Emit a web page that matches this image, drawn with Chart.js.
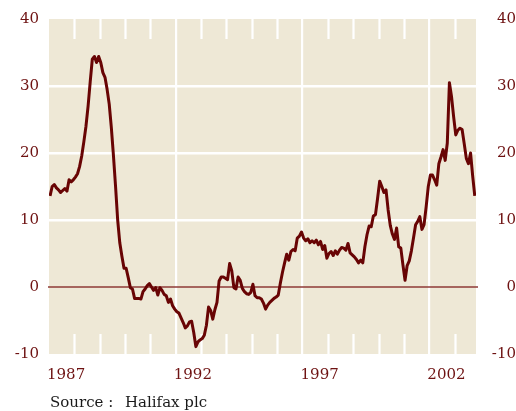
<!DOCTYPE html>
<html>
<head>
<meta charset="utf-8">
<script src="https://cdn.jsdelivr.net/npm/chart.js@4/dist/chart.umd.min.js"></script>
<style>
  html, body { margin: 0; padding: 0; background: #ffffff; }
  #wrap { width: 516px; height: 411px; position: relative; }
</style>
</head>
<body>
<div id="wrap"><canvas id="c" width="516" height="411"></canvas></div>
<script>
// ---- Data (monthly, % change year on year, Jan 1987 onwards) ----
const startYear = 1987;
const values = [
  // 1987
  13.6, 15.0, 15.3, 14.8, 14.5, 14.1, 14.4, 14.7, 14.3, 16.0, 15.7, 16.0,
  // 1988
  16.4, 16.9, 18.0, 19.6, 21.7, 24.0, 27.0, 30.6, 34.0, 34.4, 33.5, 34.4,
  // 1989
  33.5, 32.0, 31.3, 29.5, 27.3, 23.8, 19.6, 15.0, 10.0, 6.6, 4.6, 2.8,
  // 1990
  2.8, 1.4, -0.1, -0.3, -1.7, -1.7, -1.7, -1.8, -0.7, -0.3, 0.2, 0.5,
  // 1991
  0.0, -0.5, -0.1, -1.2, -0.1, -0.5, -1.1, -1.3, -2.3, -1.8, -2.8, -3.3,
  // 1992
  -3.7, -3.9, -4.6, -5.3, -6.1, -5.8, -5.2, -5.1, -6.8, -8.9, -8.2, -7.9,
  // 1993
  -7.7, -7.2, -5.7, -3.0, -3.5, -4.8, -3.4, -2.3, 0.9, 1.5, 1.5, 1.3,
  // 1994
  1.1, 3.5, 2.4, -0.1, -0.3, 1.5, 1.0, -0.2, -0.7, -1.0, -1.1, -0.8,
  // 1995
  0.4, -1.3, -1.6, -1.6, -1.8, -2.4, -3.3, -2.7, -2.3, -2.0, -1.7, -1.5,
  // 1996
  -1.2, 0.6, 2.2, 3.6, 4.9, 4.0, 5.3, 5.6, 5.4, 7.3, 7.6, 8.2,
  // 1997
  7.3, 6.9, 7.2, 6.6, 6.9, 6.6, 7.0, 6.3, 6.8, 5.6, 6.2, 4.3,
  // 1998
  5.0, 5.3, 4.7, 5.4, 4.9, 5.5, 5.9, 5.8, 5.5, 6.5, 5.1, 4.8,
  // 1999
  4.5, 4.1, 3.6, 4.0, 3.6, 6.0, 7.8, 9.1, 9.0, 10.6, 10.8, 13.2,
  // 2000
  15.8, 15.0, 14.1, 14.5, 11.5, 9.2, 7.9, 7.1, 8.8, 6.0, 5.8, 3.3,
  // 2001
  1.0, 3.2, 3.9, 5.4, 7.3, 9.3, 9.8, 10.5, 8.6, 9.3, 12.0, 15.0,
  // 2002
  16.7, 16.7, 16.0, 15.2, 18.4, 19.4, 20.5, 18.9, 21.5, 30.5, 28.4, 25.4,
  // 2003
  22.7, 23.4, 23.7, 23.5, 21.4, 19.2, 18.4, 20.0, 16.6, 13.6
];
const yTickValues = [-10, 0, 10, 20, 30, 40];
const labelYears = [1987, 1992, 1997, 2002];
const fullGridYears = [1992, 1997, 2002];
const sourceLabel = "Source :";
const sourceName = "Halifax plc";

const xMin = 1987, xMax = 2003.84;
const points = values.map((v, i) => ({ x: startYear + (i + 0.5) / 12, y: v }));
const yearTicks = [];
for (let y = Math.ceil(xMin); y <= Math.floor(xMax); y++) yearTicks.push(y);

const BG = '#eee8d6';
const LINE = '#680404';
const TXT = '#6e1212';
const FONT = "'DejaVu Serif', 'Liberation Serif', serif";

const decor = {
  id: 'decor',
  beforeDraw(chart) {
    const { ctx, chartArea: a } = chart;
    ctx.save();
    ctx.fillStyle = BG;
    ctx.fillRect(a.left, a.top, a.right - a.left, a.bottom - a.top);
    ctx.restore();
  },
  beforeDatasetsDraw(chart) {
    const { ctx, chartArea: a, scales } = chart;
    ctx.save();
    ctx.strokeStyle = '#ffffff';
    ctx.lineWidth = 2.2;
    yearTicks.forEach(yr => {
      if (fullGridYears.includes(yr) || yr === xMin) return;
      const px = Math.round(scales.x.getPixelForValue(yr)) + 0.5;
      ctx.beginPath();
      ctx.moveTo(px, a.top); ctx.lineTo(px, a.top + 20);
      ctx.moveTo(px, a.bottom - 20); ctx.lineTo(px, a.bottom);
      ctx.stroke();
    });
    // zero line on top of grid
    const zy = scales.y.getPixelForValue(0);
    ctx.strokeStyle = '#8e3a36';
    ctx.lineWidth = 1.4;
    ctx.beginPath();
    ctx.moveTo(a.left - 1, zy); ctx.lineTo(a.right + 2, zy);
    ctx.stroke();
    ctx.restore();
  },
  afterDraw(chart) {
    const { ctx } = chart;
    ctx.save();
    ctx.fillStyle = '#1a1a1a';
    ctx.font = "15px " + FONT;
    ctx.textBaseline = 'middle';
    ctx.textAlign = 'left';
    ctx.fillText(sourceLabel, 50, 403);
    ctx.fillText(sourceName, 125, 403);
    ctx.restore();
  }
};

new Chart(document.getElementById('c'), {
  type: 'line',
  data: {
    datasets: [{
      data: points,
      borderColor: LINE,
      borderWidth: 3,
      pointRadius: 0,
      tension: 0,
      borderJoinStyle: 'round',
      fill: false
    }]
  },
  options: {
    responsive: false,
    animation: false,
    devicePixelRatio: 1,
    layout: { padding: { top: 17, left: 0, right: 0, bottom: 0 } },
    plugins: { legend: { display: false }, tooltip: { enabled: false } },
    scales: {
      x: {
        type: 'linear',
        min: xMin, max: xMax,
        afterBuildTicks: s => { s.ticks = yearTicks.map(v => ({ value: v })); },
        afterFit: s => { s.height = 57; },
        border: { display: false },
        grid: {
          drawTicks: false,
          color: c => fullGridYears.includes(c.tick && c.tick.value) ? '#ffffff' : 'rgba(0,0,0,0)',
          lineWidth: 2.2
        },
        ticks: {
          autoSkip: false,
          maxRotation: 0,
          align: 'start',
          padding: 12,
          labelOffset: -2,
          color: TXT,
          font: { family: FONT, size: 15 },
          callback: v => labelYears.includes(v) ? String(v) : ''
        }
      },
      y: {
        position: 'left',
        min: -10, max: 40,
        afterBuildTicks: s => { s.ticks = yTickValues.map(v => ({ value: v })); },
        afterFit: s => { s.width = 49; },
        border: { display: false },
        grid: {
          drawTicks: false,
          color: c => {
            const v = c.tick && c.tick.value;
            return (v === 10 || v === 20 || v === 30) ? '#ffffff' : 'rgba(0,0,0,0)';
          },
          lineWidth: 2.4
        },
        ticks: {
          padding: 10,
          color: TXT,
          font: { family: FONT, size: 15 },
          callback: v => String(v)
        }
      },
      y2: {
        position: 'right',
        min: -10, max: 40,
        afterBuildTicks: s => { s.ticks = yTickValues.map(v => ({ value: v })); },
        afterFit: s => { s.width = 40; },
        border: { display: false },
        grid: { display: false, drawTicks: false },
        ticks: {
          crossAlign: 'far',
          padding: 0,
          color: TXT,
          font: { family: FONT, size: 15 },
          callback: v => String(v)
        }
      }
    }
  },
  plugins: [decor]
});
</script>
</body>
</html>
